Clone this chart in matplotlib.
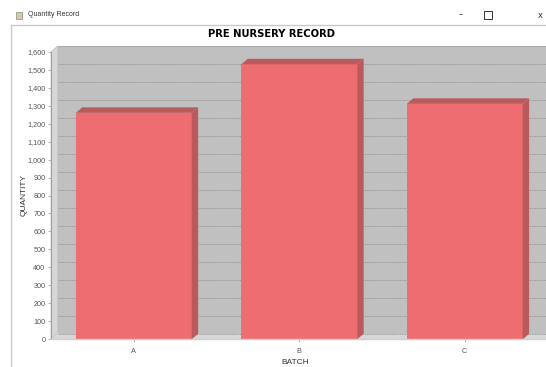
import numpy as np
import matplotlib
matplotlib.use("Agg")
import matplotlib.pyplot as plt
from matplotlib.patches import Polygon, Rectangle

# data
batches = ["A", "B", "C"]
quantity = [1260, 1530, 1310]
y_ticks = list(range(0, 1700, 100))

W, H = 546, 367
fig = plt.figure(figsize=(W / 100, H / 100), dpi=100)
fig.patch.set_facecolor("white")

def fx(px):
    return px / W

def fy(py):
    return 1 - py / H

# window chrome
fig.text(fx(28), fy(15), "Quantity Record", fontsize=5, family="Liberation Sans",
         color="#333333", va="center")
fig.patches.append(Rectangle((fx(16), fy(18.5)), 6 / W, 7 / H, transform=fig.transFigure,
                             facecolor="#d8c9a8", edgecolor="#8a8a8a", lw=0.5))
fig.text(fx(461), fy(15), "\u2013", fontsize=6, color="#333333", ha="center", va="center")
fig.patches.append(Rectangle((fx(484), fy(19)), 8 / W, 8 / H, transform=fig.transFigure,
                             facecolor="none", edgecolor="#333333", lw=0.7))
fig.text(fx(538), fy(15), "x", fontsize=6, color="#333333", va="center")
fig.lines.append(plt.Line2D([fx(11), fx(11)], [fy(25), fy(367)], transform=fig.transFigure,
                            color="#c8c8d0", lw=1))
fig.lines.append(plt.Line2D([fx(11), fx(546)], [fy(25), fy(25)], transform=fig.transFigure,
                            color="#c8c8d0", lw=1))

fig.text(fx(272), fy(34), "PRE NURSERY RECORD", fontsize=7.2, fontweight="bold",
         family=["DejaVu Sans"], ha="center", va="center")

# plot area (front plane)
left, right, top, base = 51, 540, 51.7, 339.3
ax = fig.add_axes([fx(left), fy(base), (right - left) / W, (base - top) / H])
ax.set_xlim(-0.5, 2.455)
ax.set_ylim(0, 1600)
ax.patch.set_visible(False)
for s in ax.spines.values():
    s.set_visible(False)

# 3d offset in pixels -> data units
dx_px, dy_px = 6.5, 5.5
p0 = ax.transData.transform((0, 0))
ddx, ddy = ax.transData.inverted().transform(p0 + np.array([dx_px, dy_px]))
x0, x1 = ax.get_xlim()
ymax = 1600

wall = "#c0c0c0"
side = "#d6d6d6"
ax.add_patch(Polygon([(x0 + ddx, ddy), (x1 + 3 * ddx, ddy), (x1 + 3 * ddx, ymax + ddy),
                      (x0 + ddx, ymax + ddy)], closed=True, facecolor=wall,
                     edgecolor="none", clip_on=False, zorder=0))
ax.add_patch(Polygon([(x0, 0), (x0 + ddx, ddy), (x0 + ddx, ymax + ddy), (x0, ymax)],
                     closed=True, facecolor=side, edgecolor="#b0b0b0", lw=0.4,
                     clip_on=False, zorder=0.5))
ax.add_patch(Polygon([(x0, 0), (x1 + 3 * ddx, 0), (x1 + 3 * ddx, ddy), (x0 + ddx, ddy)],
                     closed=True, facecolor=side, edgecolor="none", clip_on=False, zorder=0.5))

for v in y_ticks:
    ax.plot([x0 + ddx, x1 + 3 * ddx], [v + ddy, v + ddy], color="#8c8c8c", lw=0.6,
            ls=(0, (1, 1)), clip_on=False, zorder=1)

# bars
pos = np.arange(len(batches))
bw = 0.70
front = "#ee6d71"
dark = "#b95a5d"
ax.bar(pos, quantity, width=bw, color=front, edgecolor="none", zorder=3)
for p, q in zip(pos, quantity):
    xa, xb = p - bw / 2, p + bw / 2
    ax.add_patch(Polygon([(xa, q), (xb, q), (xb + ddx, q + ddy), (xa + ddx, q + ddy)],
                         closed=True, facecolor=dark, edgecolor="none", zorder=3, clip_on=False))
    ax.add_patch(Polygon([(xb, 0), (xb, q), (xb + ddx, q + ddy), (xb + ddx, ddy)],
                         closed=True, facecolor=dark, edgecolor="none", zorder=3, clip_on=False))

# axes lines
ax.plot([x0, x0], [0, ymax], color="#a0a0a0", lw=0.8, clip_on=False, zorder=4)
ax.plot([x0, x1 + 3 * ddx], [0, 0], color="#d0d0d0", lw=1.0, clip_on=False, zorder=4)

ax.set_yticks(y_ticks)
ax.set_yticklabels([f"{v:,}" for v in y_ticks])
ax.set_xticks(pos)
ax.set_xticklabels(batches)
ax.tick_params(axis="y", length=2, width=0.5, color="#999999", labelsize=5.2,
               labelcolor="#555555", pad=2)
ax.tick_params(axis="x", length=2, width=0.5, color="#999999", labelsize=5.2,
               labelcolor="#555555", pad=4)
for lab in ax.get_yticklabels() + ax.get_xticklabels():
    lab.set_family("Liberation Sans")

ax.set_ylabel("QUANTITY", fontsize=6, family="Liberation Sans", color="#333333", labelpad=0)
ax.set_xlabel("BATCH", fontsize=6, family="Liberation Sans", color="#333333", labelpad=3)

fig.savefig("out.png", dpi=100, facecolor="white")
